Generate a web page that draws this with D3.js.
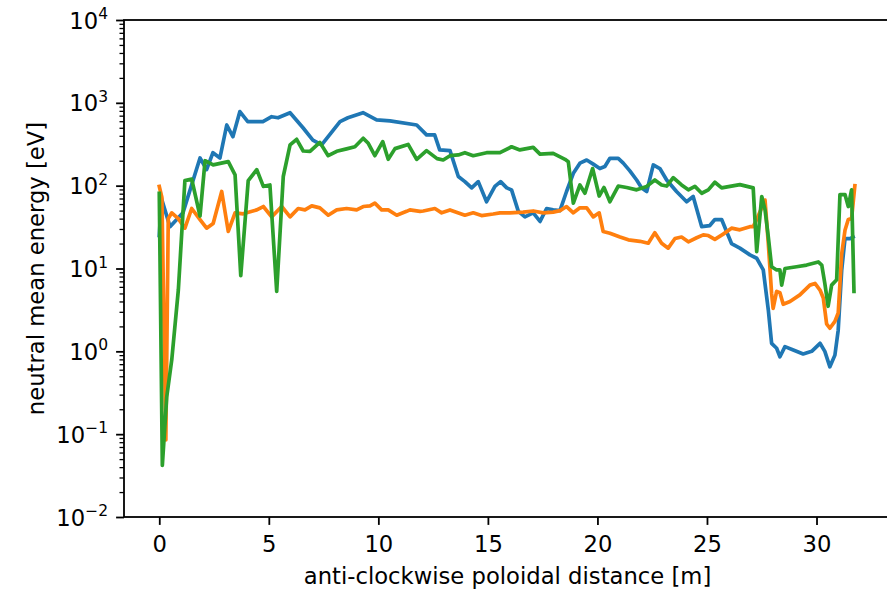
<!DOCTYPE html>
<html>
<head>
<meta charset="utf-8">
<script src="https://cdn.jsdelivr.net/npm/d3@7"></script>
<style>
  body { margin: 0; background: #fff; }
  svg { display: block; }
  text { font-family: "DejaVu Sans", sans-serif; fill: #000; }
</style>
</head>
<body>
<svg id="chart" width="887" height="590"></svg>
<script>
// poloidal distance [m] and neutral mean energy [eV]
var blueDist = [0, 0.1, 0.49, 1.08, 1.86, 2.16, 2.45, 2.77, 3.08, 3.36, 3.68, 4.04, 4.73, 5.13, 5.42, 5.97, 6.56, 7.01, 7.41, 8.25, 8.61, 9.3, 9.92, 10.53, 11.75, 12.2, 12.57, 12.8, 13.27, 13.65, 13.95, 14.26, 14.56, 14.94, 15.32, 15.58, 15.86, 16.08, 16.39, 16.69, 17.07, 17.38, 17.68, 17.98, 18.29, 18.59, 18.9, 19.2, 19.51, 19.81, 20.11, 20.34, 20.57, 20.95, 21.18, 21.48, 21.79, 22.02, 22.25, 22.55, 22.85, 23.16, 23.61, 24.07, 24.37, 24.76, 25.13, 25.36, 25.67, 26.12, 26.5, 26.96, 27.27, 27.57, 27.8, 27.95, 28.18, 28.33, 28.56, 28.94, 29.39, 29.78, 30.16, 30.38, 30.61, 30.84, 30.99, 31.15, 31.3, 31.53, 31.67];
var blueEnergy = [25, 70, 32, 47, 216, 156, 250, 216, 540, 390, 785, 594, 594, 680, 660, 760, 500, 355, 310, 594, 660, 760, 624, 605, 540, 410, 410, 270, 265, 129, 112, 94, 112, 64, 98, 112, 94, 89, 49, 42, 47, 37, 53, 51, 50, 85, 141, 187, 204, 182, 161, 170, 214, 214, 187, 151, 117, 94, 85, 178, 161, 117, 85, 64, 74, 32, 33, 39, 39, 20, 17.6, 14.6, 13.3, 9.6, 3.16, 1.25, 1.09, 0.86, 1.14, 1.04, 0.93, 1.0, 1.25, 1.0, 0.65, 0.9, 1.8, 9.6, 23, 23, 24];

var orangeDist = [0, 0.12, 0.3, 0.41, 0.57, 0.87, 1.17, 1.48, 1.86, 2.16, 2.46, 2.85, 3.15, 3.46, 3.83, 4.45, 4.75, 5.13, 5.59, 5.97, 6.34, 6.65, 6.96, 7.33, 7.71, 8.1, 8.55, 9.01, 9.31, 9.62, 9.84, 10.15, 10.45, 10.84, 11.29, 11.44, 11.9, 12.05, 12.58, 12.89, 13.27, 13.95, 14.33, 14.71, 15.24, 15.55, 16.01, 16.61, 17.07, 17.53, 17.98, 18.29, 18.59, 18.9, 19.2, 19.51, 19.81, 20.08, 20.26, 20.57, 21.03, 21.41, 21.94, 22.32, 22.62, 22.93, 23.23, 23.54, 23.84, 24.15, 24.53, 24.83, 25.06, 25.36, 25.74, 26.12, 26.5, 26.96, 27.11, 27.27, 27.65, 27.8, 27.95, 28.02, 28.18, 28.33, 28.48, 28.79, 29.24, 29.7, 29.93, 30.16, 30.31, 30.46, 30.61, 30.84, 30.99, 31.15, 31.3, 31.45, 31.6, 31.75];
var orangeEnergy = [98, 72, 0.085, 40, 47, 40, 30.7, 53, 39, 30.7, 35, 85, 28, 47, 45.7, 51, 56, 42, 56, 42, 53, 51, 57, 54, 44, 51, 53, 51, 56, 57, 61.5, 51, 51, 44, 49, 51, 49, 49.5, 53, 47, 51, 44, 47, 43.5, 45.5, 47, 47, 48, 49.5, 47, 48, 50, 56, 47, 54, 54, 42, 47, 28, 26.7, 24, 22.2, 21.3, 20.2, 27, 20.2, 17.6, 23, 24, 21, 23.5, 25.5, 25, 22.5, 26, 30.7, 29.3, 32, 32, 39, 67, 20, 5, 3.3, 5.3, 5.1, 3.7, 4.0, 4.8, 6.3, 6.6, 5.5, 4.4, 2.15, 1.9, 2.3, 2.9, 15, 29, 39, 40, 100];

var greenDist = [0, 0.14, 0.34, 0.57, 0.87, 1.17, 1.48, 1.86, 2.09, 2.46, 3.15, 3.46, 3.72, 4.06, 4.45, 4.75, 5.05, 5.36, 5.66, 5.97, 6.27, 6.57, 6.88, 7.33, 7.71, 8.1, 8.55, 8.93, 9.31, 9.54, 9.84, 10.2, 10.45, 10.76, 11.36, 11.75, 12.2, 12.68, 12.96, 13.27, 13.65, 13.95, 14.33, 14.94, 15.55, 16.08, 16.46, 17.07, 17.38, 17.98, 18.52, 18.67, 18.9, 19.2, 19.43, 19.78, 20.08, 20.3, 20.57, 20.95, 21.33, 21.79, 22.25, 22.62, 22.93, 23.16, 23.46, 23.84, 24.15, 24.45, 24.76, 25.06, 25.36, 25.67, 26.05, 26.5, 27.11, 27.27, 27.5, 27.65, 27.8, 27.95, 28.18, 28.33, 28.41, 28.56, 29.09, 29.55, 30.08, 30.24, 30.38, 30.53, 30.69, 30.92, 31.07, 31.3, 31.45, 31.6, 31.71];
var greenEnergy = [81, 0.042, 0.28, 0.79, 5.5, 115, 120, 43, 200, 178, 195, 135, 8.2, 115, 156, 98, 102, 5.3, 129, 310, 363, 262, 260, 333, 230, 260, 278, 295, 373, 325, 230, 340, 208, 280, 315, 208, 265, 212, 204, 230, 235, 250, 230, 250, 250, 295, 270, 290, 240, 245, 208, 195, 61.5, 102, 81, 161, 75, 95, 64, 99, 95, 89, 98, 117, 102, 99, 125, 102, 89, 98, 81, 89, 110, 94, 98, 103, 94, 16, 74, 51, 24, 10.5, 9.6, 9.6, 6.3, 10, 10.5, 11, 12, 11, 6.6, 3.5, 6.3, 7.3, 78, 78, 56, 89, 5.3];

var xTicks = [0, 5, 10, 15, 20, 25, 30];
var yExponents = [-2, -1, 0, 1, 2, 3, 4];

var series = [
  { name: 'blue', dist: blueDist, energy: blueEnergy, color: '#1f77b4' },
  { name: 'orange', dist: orangeDist, energy: orangeEnergy, color: '#ff7f0e' },
  { name: 'green', dist: greenDist, energy: greenEnergy, color: '#2ca02c' }
];

var svg = d3.select('#chart');
var plotLeft = 124, plotRight = 891, plotTop = 20, plotBottom = 517;

var x = d3.scaleLinear().domain([-1.61, 33.4]).range([plotLeft, plotRight]);
var y = d3.scaleLog().domain([1e-2, 1e4]).range([plotBottom, plotTop]);

var line = d3.line()
    .x(function(d) { return x(d[0]); })
    .y(function(d) { return y(d[1]); });

series.forEach(function(s) {
    var pts = s.dist.map(function(d, i) { return [d, s.energy[i]]; });
    svg.append('path')
        .datum(pts)
        .attr('class', 'series ' + s.name)
        .attr('fill', 'none')
        .attr('stroke', s.color)
        .attr('stroke-width', 3.7)
        .attr('stroke-linejoin', 'round')
        .attr('stroke-linecap', 'square')
        .attr('d', line);
});

// minor ticks on y
var minor = [];
yExponents.slice(0, -1).forEach(function(e) {
    for (var k = 2; k < 10; k++) { minor.push(k * Math.pow(10, e)); }
});

var yMinor = svg.append('g')
    .attr('transform', 'translate(' + plotLeft + ',0)')
    .call(d3.axisLeft(y).tickValues(minor).tickSize(4.5).tickFormat(''));
yMinor.select('.domain').remove();
yMinor.selectAll('line').attr('stroke', '#000').attr('stroke-width', 1.3);

var yMajor = svg.append('g')
    .attr('transform', 'translate(' + plotLeft + ',0)')
    .call(d3.axisLeft(y).tickValues(yExponents.map(function(e) { return Math.pow(10, e); }))
        .tickSize(7.9).tickFormat(''));
yMajor.select('.domain').remove();
yMajor.selectAll('line').attr('stroke', '#000').attr('stroke-width', 1.8);

yExponents.forEach(function(e) {
    var t = svg.append('text')
        .attr('x', 108)
        .attr('y', y(Math.pow(10, e)) + 8.5)
        .attr('text-anchor', 'end')
        .style('font-size', '22.7px');
    t.append('tspan').text('10');
    t.append('tspan')
        .attr('dy', -9.5)
        .style('font-size', '15.5px')
        .text(e < 0 ? '\u2212' + Math.abs(e) : String(e));
});

var xAxis = svg.append('g')
    .attr('transform', 'translate(0,' + plotBottom + ')')
    .call(d3.axisBottom(x).tickValues(xTicks).tickSize(7.9).tickPadding(11));
xAxis.select('.domain').remove();
xAxis.selectAll('line').attr('stroke', '#000').attr('stroke-width', 1.8);
xAxis.selectAll('text')
    .style('font-size', '22.7px')
    .style('font-family', '"DejaVu Sans", sans-serif')
    .attr('fill', '#000');

// spines
svg.append('rect')
    .attr('x', plotLeft).attr('y', plotTop)
    .attr('width', plotRight - plotLeft).attr('height', plotBottom - plotTop)
    .attr('fill', 'none')
    .attr('stroke', '#000')
    .attr('stroke-width', 1.8);

svg.append('text')
    .attr('x', (plotLeft + plotRight) / 2)
    .attr('y', 584)
    .attr('text-anchor', 'middle')
    .style('font-size', '22.7px')
    .text('anti-clockwise poloidal distance [m]');

svg.append('text')
    .attr('transform', 'translate(44,' + (plotTop + plotBottom) / 2 + ') rotate(-90)')
    .attr('text-anchor', 'middle')
    .style('font-size', '22.7px')
    .text('neutral mean energy [eV]');
</script>
</body>
</html>
